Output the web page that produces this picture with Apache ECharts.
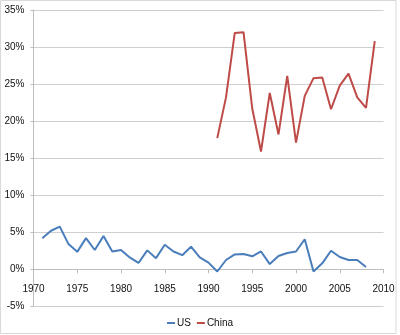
<!DOCTYPE html>
<html>
<head>
<meta charset="utf-8">
<script src="https://cdn.jsdelivr.net/npm/echarts@6/dist/echarts.min.js"></script>
<style>
  html, body { margin: 0; padding: 0; background: #fff; }
  #chart { width: 400px; height: 335px; }
</style>
</head>
<body>
<div id="chart"></div>
<script>
// Annual growth rates, percent
const usYears = [1971, 1972, 1973, 1974, 1975, 1976, 1977, 1978, 1979, 1980,
                 1981, 1982, 1983, 1984, 1985, 1986, 1987, 1988, 1989, 1990,
                 1991, 1992, 1993, 1994, 1995, 1996, 1997, 1998, 1999, 2000,
                 2001, 2002, 2003, 2004, 2005, 2006, 2007, 2008];
const usValues = [4.2, 5.2, 5.75, 3.4, 2.35, 4.2, 2.6, 4.5, 2.4, 2.6,
                  1.6, 0.85, 2.55, 1.5, 3.3, 2.4, 1.9, 3.05, 1.6, 0.9,
                  -0.3, 1.25, 2.0, 2.05, 1.75, 2.4, 0.7, 1.8, 2.2, 2.4,
                  4.05, -0.3, 0.8, 2.5, 1.65, 1.25, 1.25, 0.3];

const chinaYears = [1991, 1992, 1993, 1994, 1995, 1996, 1997, 1998, 1999, 2000,
                    2001, 2002, 2003, 2004, 2005, 2006, 2007, 2008, 2009];
const chinaValues = [17.7, 23.2, 31.9, 32.0, 21.7, 15.9, 23.8, 18.2, 26.1, 17.1,
                     23.4, 25.8, 25.9, 21.6, 24.8, 26.4, 23.2, 21.8, 30.8];

const xTicks = { min: 1970, max: 2010, step: 5 };
const yTicks = { min: -5, max: 35, step: 5 };

const pairs = (xs, ys) => xs.map((x, i) => [x, ys[i]]);

const FONT = '"Liberation Sans", Arial, sans-serif';
const GRID = { left: 33.5, right: 16.5, top: 10, bottom: 28.7 };
const chart = echarts.init(document.getElementById('chart'), null, { renderer: 'canvas' });

// the category axis sits on the 0% line: shift it up from the grid bottom
const plotH = 335 - GRID.top - GRID.bottom;
const zeroShift = plotH * (0 - yTicks.min) / (yTicks.max - yTicks.min);

chart.setOption({
  animation: false,
  backgroundColor: '#ffffff',
  grid: Object.assign({ containLabel: false }, GRID),
  xAxis: {
    type: 'value',
    min: xTicks.min, max: xTicks.max, interval: xTicks.step,
    offset: -zeroShift,
    axisLine: { show: true, onZero: false, lineStyle: { color: '#bcbcbc', width: 1 } },
    axisTick: { show: true, length: 4, lineStyle: { color: '#bcbcbc' } },
    splitLine: { show: false },
    axisLabel: { color: '#111', fontFamily: FONT, fontSize: 10, margin: 15,
                 formatter: v => String(v) }
  },
  yAxis: {
    type: 'value',
    min: yTicks.min, max: yTicks.max, interval: yTicks.step,
    axisLine: { show: true, onZero: false, lineStyle: { color: '#bcbcbc', width: 1 } },
    axisTick: { show: true, length: 3, lineStyle: { color: '#bcbcbc' } },
    splitLine: { show: true, lineStyle: { color: '#cfcfcf', width: 1 } },
    axisLabel: { color: '#111', fontFamily: FONT, fontSize: 10, margin: 9,
                 formatter: '{value}%' }
  },
  legend: {
    bottom: 2,
    left: 'center',
    icon: 'rect',
    itemWidth: 8,
    itemHeight: 2,
    itemGap: 6,
    textStyle: { color: '#111', fontFamily: FONT, fontSize: 10, padding: [0, 0, 0, -3] },
    data: ['US', 'China']
  },
  graphic: [{
    type: 'rect',
    shape: { x: 0.5, y: 0.5, width: 395.5, height: 333 },
    style: { fill: 'none', stroke: '#d9d9d9', lineWidth: 1 },
    silent: true
  }],
  series: [
    {
      name: 'US', type: 'line', data: pairs(usYears, usValues),
      showSymbol: false, symbol: 'none',
      lineStyle: { color: '#4a7ebb', width: 2 }, itemStyle: { color: '#4a7ebb' }
    },
    {
      name: 'China', type: 'line', data: pairs(chinaYears, chinaValues),
      showSymbol: false, symbol: 'none',
      lineStyle: { color: '#be4b48', width: 2 }, itemStyle: { color: '#be4b48' }
    }
  ]
});
</script>
</body>
</html>
